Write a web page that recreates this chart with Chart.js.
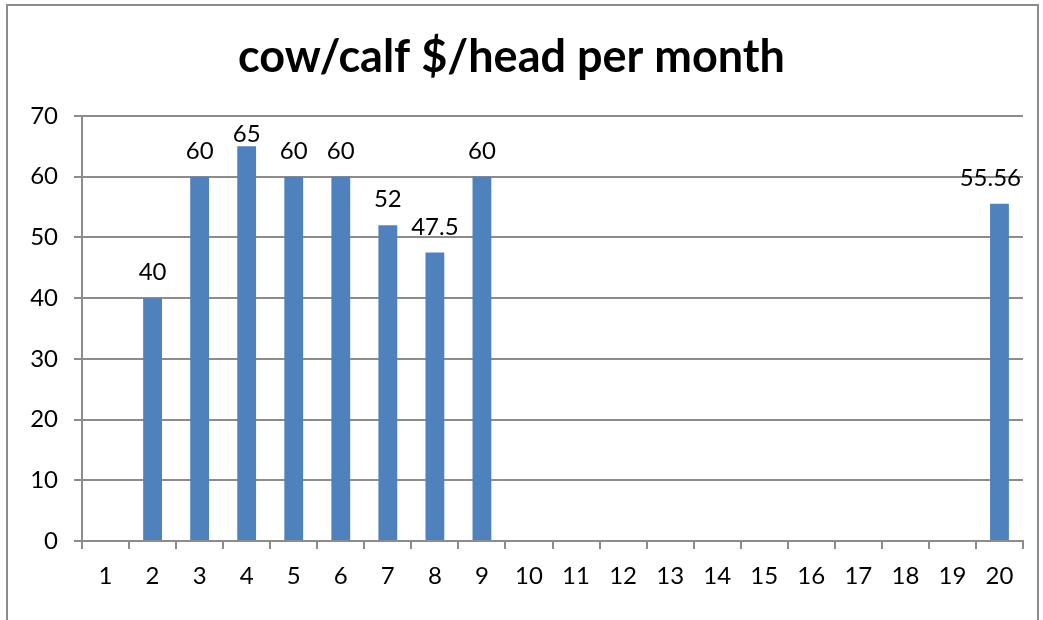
<!DOCTYPE html>
<html>
<head>
<meta charset="utf-8">
<script src="https://cdn.jsdelivr.net/npm/chart.js@4"></script>
<style>
  html, body { margin:0; padding:0; background:#fff; }
  #wrap { position:relative; width:1043px; height:620px; overflow:hidden; }
  #frame { position:absolute; left:6px; top:4px; width:1033px; height:700px; border:2px solid #8c8c8c; box-sizing:border-box; }
  canvas { position:absolute; left:0; top:0; }
</style>
</head>
<body>
<div id="wrap">
  <div id="frame"></div>
  <canvas id="chart" width="1043" height="620"></canvas>
</div>
<script>
const months = ['1','2','3','4','5','6','7','8','9','10','11','12','13','14','15','16','17','18','19','20'];
const perHead = [null,40,60,65,60,60,52,47.5,60,null,null,null,null,null,null,null,null,null,null,55.56];
const yTicks = [0,10,20,30,40,50,60,70];

const FONT = 'Lato, "Open Sans", sans-serif';

// value labels above bars, kept inside the plot area like Excel does
const valueLabels = {
  id:'valueLabels',
  afterDatasetsDraw(chart){
    const ctx = chart.ctx;
    const area = chart.chartArea;
    const meta = chart.getDatasetMeta(0);
    ctx.save();
    ctx.font = '24px ' + FONT;
    ctx.fillStyle = '#000';
    ctx.textBaseline = 'alphabetic';
    ctx.textAlign = 'center';
    meta.data.forEach((bar, i)=>{
      const v = perHead[i];
      if (v == null) return;
      const txt = String(v);
      const w = ctx.measureText(txt).width;
      let x = bar.x;
      if (x + w/2 > area.right - 2) x = area.right - 2 - w/2;
      const y = Math.max(bar.y - 18, area.top + 26);
      ctx.fillText(txt, x, y);
    });
    ctx.restore();
  }
};

new Chart(document.getElementById('chart').getContext('2d'), {
  type:'bar',
  data:{ labels: months, datasets:[{ data: perHead, backgroundColor:'#4f81bd', barPercentage:0.8, categoryPercentage:0.5 }] },
  options:{
    responsive:false,
    animation:false,
    layout:{ padding:{ left:0, right:20, top:0, bottom:0 } },
    plugins:{
      legend:{ display:false },
      tooltip:{ enabled:false },
      title:{ display:true, text:'cow/calf $/head per month', color:'#000',
        font:{ family:FONT, size:45, weight:'bold' }, padding:{ top:30, bottom:32 } }
    },
    scales:{
      x:{
        afterFit(s){ s.height = 79; },
        grid:{ offset:true, drawOnChartArea:false, drawTicks:true, tickLength:8, color:'#8c8c8c', lineWidth:2 },
        border:{ color:'#8c8c8c', width:2 },
        ticks:{ color:'#000', font:{ family:FONT, size:24 }, padding:13, maxRotation:0, autoSkip:false }
      },
      y:{
        min:0, max:70,
        afterFit(s){ s.width = 82; },
        afterBuildTicks(s){ s.ticks = yTicks.map(v=>({value:v})); },
        grid:{ color:'#8c8c8c', lineWidth:2, tickLength:8 },
        border:{ color:'#8c8c8c', width:2 },
        ticks:{ color:'#000', font:{ family:FONT, size:24 }, padding:16 }
      }
    }
  },
  plugins:[valueLabels]
});
</script>
</body>
</html>
